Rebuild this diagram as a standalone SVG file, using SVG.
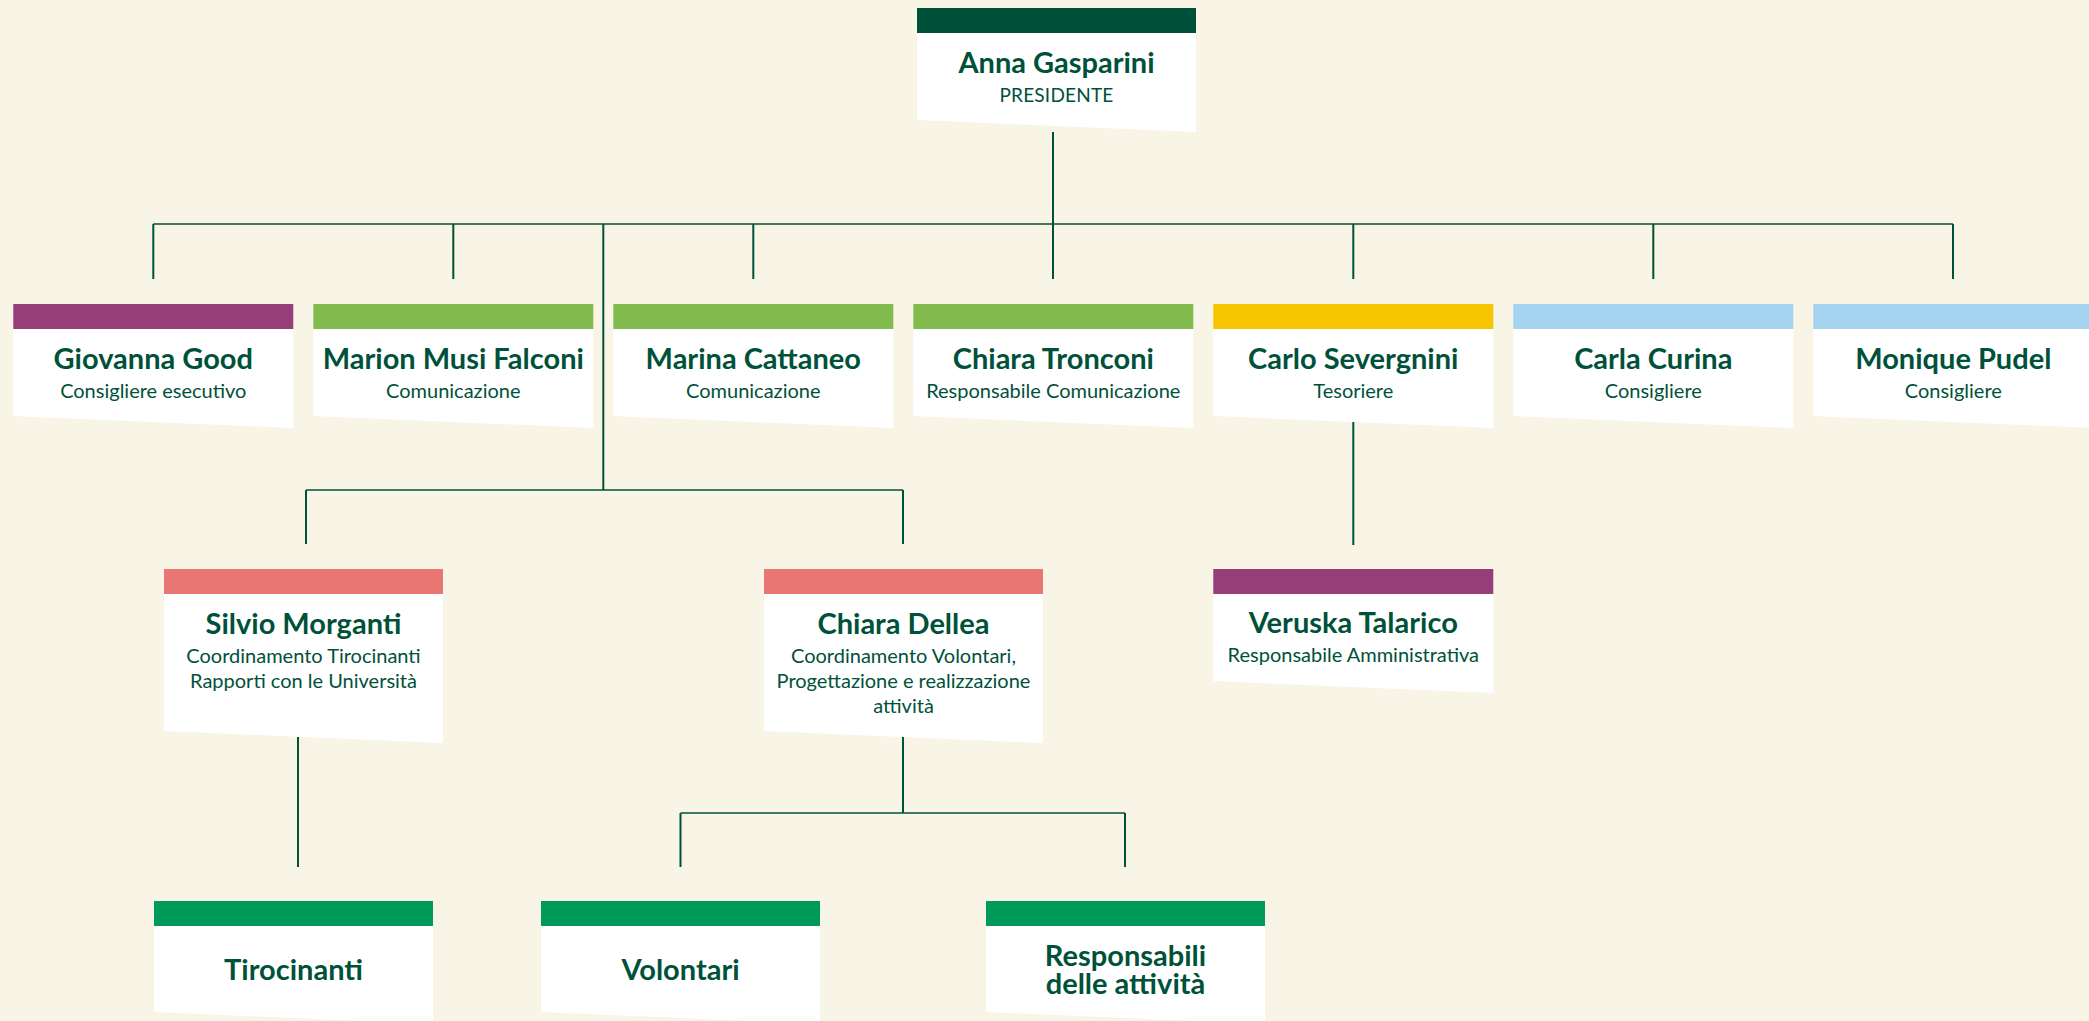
<svg xmlns="http://www.w3.org/2000/svg" width="2089" height="1021" viewBox="0 0 2089 1021">
<style>
.body{fill:#ffffff}
.name{font-family:Lato,"Liberation Sans",sans-serif;font-weight:700;font-size:29px;fill:#00513a;text-anchor:middle}
.sub{font-family:Lato,"Liberation Sans",sans-serif;font-weight:400;font-size:20px;fill:#00513a;text-anchor:middle}
.role{font-family:Lato,"Liberation Sans",sans-serif;font-weight:400;font-size:19px;fill:#00513a;text-anchor:middle;letter-spacing:0.2px}
.v{stroke:#00513a;stroke-width:2;fill:none}
.h{stroke:#00513a;stroke-width:1.4;fill:none}
.dk{fill:#00513a}.pu{fill:#963e78}.lg{fill:#82bc4e}.ye{fill:#f7c500}.lb{fill:#a4d4f0}.sa{fill:#eb7775}.gr{fill:#009b5a}
</style>
<rect width="2089" height="1021" fill="#f8f5e7"/>
<g id="connectors">
<line class="v" x1="1053" y1="132" x2="1053" y2="279"/>
<line class="h" x1="153.3" y1="224" x2="1953" y2="224"/>
<line class="v" x1="153.3" y1="224" x2="153.3" y2="279"/>
<line class="v" x1="453.3" y1="224" x2="453.3" y2="279"/>
<line class="v" x1="753.3" y1="224" x2="753.3" y2="279"/>
<line class="v" x1="1353.3" y1="224" x2="1353.3" y2="279"/>
<line class="v" x1="1653.3" y1="224" x2="1653.3" y2="279"/>
<line class="v" x1="1953" y1="224" x2="1953" y2="279"/>
<line class="v" x1="603.3" y1="224" x2="603.3" y2="490"/>
<line class="h" x1="306" y1="490" x2="903" y2="490"/>
<line class="v" x1="306" y1="490" x2="306" y2="544"/>
<line class="v" x1="903" y1="490" x2="903" y2="544"/>
<line class="v" x1="1353.3" y1="422" x2="1353.3" y2="545"/>
<line class="v" x1="298" y1="737" x2="298" y2="867"/>
<line class="v" x1="903" y1="737" x2="903" y2="813"/>
<line class="h" x1="680.5" y1="813" x2="1125" y2="813"/>
<line class="v" x1="680.5" y1="813" x2="680.5" y2="867"/>
<line class="v" x1="1125" y1="813" x2="1125" y2="867"/>
</g>
<g id="node-anna">
<rect class="dk" x="917" y="8" width="279" height="25"/>
<path class="body" d="M917 33H1196V132L917 120Z"/>
<text class="name" x="1056.5" y="73">Anna Gasparini</text>
<text class="role" x="1056.5" y="102">PRESIDENTE</text>
</g>
<g id="node-giovanna">
<rect class="pu" x="13.3" y="304" width="280" height="25"/>
<path class="body" d="M13.3 329H293.3V428L13.3 416Z"/>
<text class="name" x="153.3" y="369">Giovanna Good</text>
<text class="sub" x="153.3" y="398">Consigliere esecutivo</text>
</g>
<g id="node-marion">
<rect class="lg" x="313.3" y="304" width="280" height="25"/>
<path class="body" d="M313.3 329H593.3V428L313.3 416Z"/>
<text class="name" x="453.3" y="369">Marion Musi Falconi</text>
<text class="sub" x="453.3" y="398">Comunicazione</text>
</g>
<g id="node-marina">
<rect class="lg" x="613.3" y="304" width="280" height="25"/>
<path class="body" d="M613.3 329H893.3V428L613.3 416Z"/>
<text class="name" x="753.3" y="369">Marina Cattaneo</text>
<text class="sub" x="753.3" y="398">Comunicazione</text>
</g>
<g id="node-chiara-t">
<rect class="lg" x="913.3" y="304" width="280" height="25"/>
<path class="body" d="M913.3 329H1193.3V428L913.3 416Z"/>
<text class="name" x="1053.3" y="369">Chiara Tronconi</text>
<text class="sub" x="1053.3" y="398">Responsabile Comunicazione</text>
</g>
<g id="node-carlo">
<rect class="ye" x="1213.3" y="304" width="280" height="25"/>
<path class="body" d="M1213.3 329H1493.3V428L1213.3 416Z"/>
<text class="name" x="1353.3" y="369">Carlo Severgnini</text>
<text class="sub" x="1353.3" y="398">Tesoriere</text>
</g>
<g id="node-carla">
<rect class="lb" x="1513.3" y="304" width="280" height="25"/>
<path class="body" d="M1513.3 329H1793.3V428L1513.3 416Z"/>
<text class="name" x="1653.3" y="369">Carla Curina</text>
<text class="sub" x="1653.3" y="398">Consigliere</text>
</g>
<g id="node-monique">
<rect class="lb" x="1813.3" y="304" width="280" height="25"/>
<path class="body" d="M1813.3 329H2093.3V428L1813.3 416Z"/>
<text class="name" x="1953.3" y="369">Monique Pudel</text>
<text class="sub" x="1953.3" y="398">Consigliere</text>
</g>
<g id="node-silvio">
<rect class="sa" x="164" y="569" width="279" height="25"/>
<path class="body" d="M164 594H443V743L164 731Z"/>
<text class="name" x="303.5" y="634">Silvio Morganti</text>
<text class="sub" x="303.5" y="663">Coordinamento Tirocinanti</text>
<text class="sub" x="303.5" y="688">Rapporti con le Università</text>
</g>
<g id="node-chiara-d">
<rect class="sa" x="764" y="569" width="279" height="25"/>
<path class="body" d="M764 594H1043V743L764 731Z"/>
<text class="name" x="903.5" y="634">Chiara Dellea</text>
<text class="sub" x="903.5" y="663">Coordinamento Volontari,</text>
<text class="sub" x="903.5" y="688">Progettazione e realizzazione</text>
<text class="sub" x="903.5" y="713">attività</text>
</g>
<g id="node-veruska">
<rect class="pu" x="1213.3" y="569" width="280" height="25"/>
<path class="body" d="M1213.3 594H1493.3V693L1213.3 681Z"/>
<text class="name" x="1353.3" y="633">Veruska Talarico</text>
<text class="sub" x="1353.3" y="662">Responsabile Amministrativa</text>
</g>
<g id="node-tirocinanti">
<rect class="gr" x="154" y="901" width="279" height="25"/>
<path class="body" d="M154 926H433V1024L154 1012Z"/>
<text class="name" x="293.5" y="980">Tirocinanti</text>
</g>
<g id="node-volontari">
<rect class="gr" x="541" y="901" width="279" height="25"/>
<path class="body" d="M541 926H820V1024L541 1012Z"/>
<text class="name" x="680.5" y="980">Volontari</text>
</g>
<g id="node-responsabili">
<rect class="gr" x="986" y="901" width="279" height="25"/>
<path class="body" d="M986 926H1265V1024L986 1012Z"/>
<text class="name" x="1125.5" y="966">Responsabili</text>
<text class="name" x="1125.5" y="994">delle attività</text>
</g>
</svg>
